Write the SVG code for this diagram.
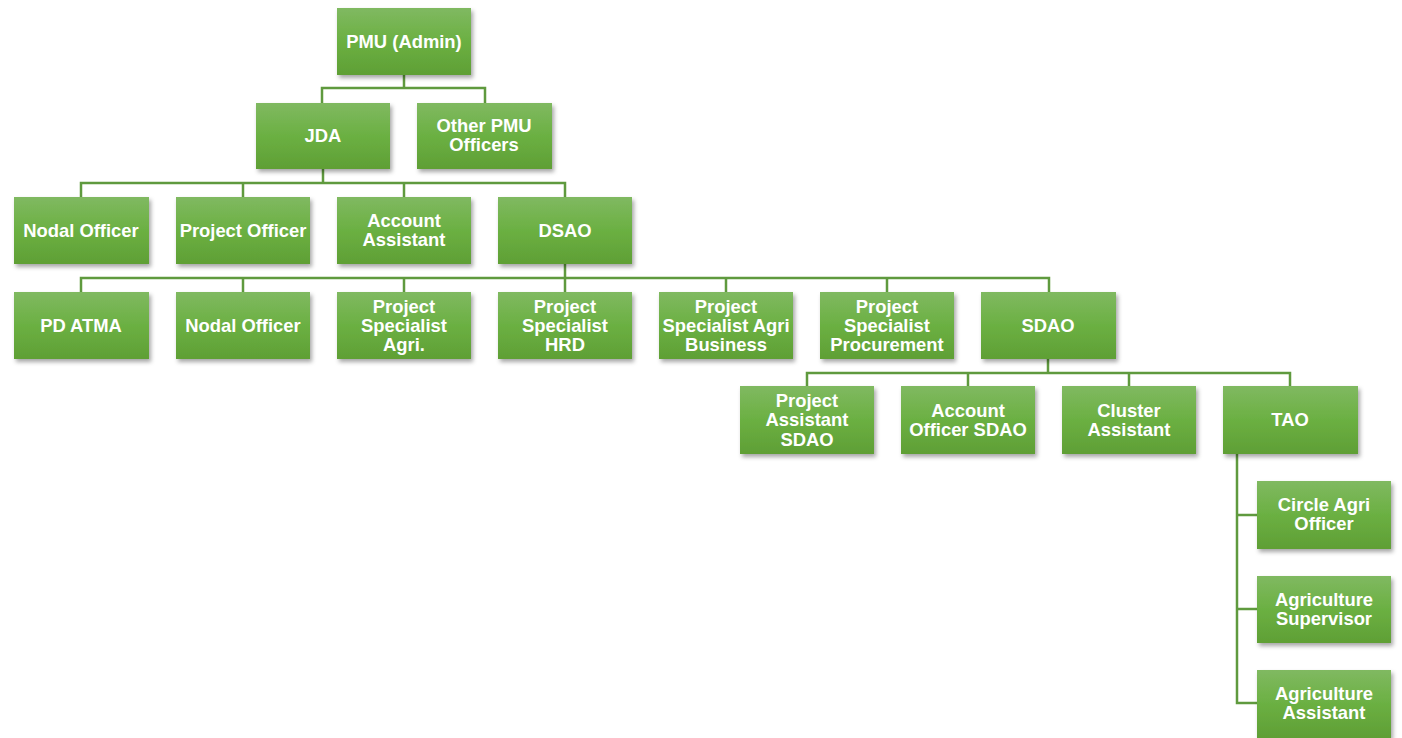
<svg xmlns="http://www.w3.org/2000/svg" width="1402" height="738" viewBox="0 0 1402 738">
<defs>
<linearGradient id="g" x1="0" y1="0" x2="0" y2="1">
<stop offset="0" stop-color="#80b961"/>
<stop offset="0.5" stop-color="#6bb042"/>
<stop offset="1" stop-color="#5f9f35"/>
</linearGradient>
<filter id="sh" x="-10%" y="-10%" width="125%" height="130%">
<feDropShadow dx="2" dy="3" stdDeviation="2" flood-color="#000" flood-opacity="0.35"/>
</filter>
</defs>
<style>
.b{fill:url(#g);filter:url(#sh)}
.t{font-family:"Liberation Sans",Arial,sans-serif;font-weight:bold;font-size:18.4px;fill:#fff;text-anchor:middle}
.c{fill:none;stroke:#5f9a3e;stroke-width:2.5}
</style>
<rect width="1402" height="738" fill="#fff"/>
<g id="connectors" class="c">
<path d="M404 75V88M322 103V88H485V103"/>
<path d="M323 169V183M81 197V183H565V197M243 183V197M404 183V197"/>
<path d="M565 264V278M81 292V278H1049V292M243 278V292M404 278V292M565 278V292M726 278V292M887 278V292"/>
<path d="M1048 359V373M807 386V373H1290V386M968 373V386M1129 373V386"/>
<path d="M1237 454V703H1257M1237 515H1257M1237 609H1257"/>
</g>
<g id="pmu"><rect class="b" x="337" y="8" width="134" height="67"/><text class="t" x="404" y="48">PMU (Admin)</text></g>
<g id="jda"><rect class="b" x="256" y="103" width="134" height="66"/><text class="t" x="323" y="142">JDA</text></g>
<g id="other-pmu"><rect class="b" x="417" y="103" width="135" height="66"/><text class="t" x="484" y="132">Other PMU</text><text class="t" x="484" y="151">Officers</text></g>
<g id="nodal1"><rect class="b" x="14" y="197" width="135" height="67"/><text class="t" x="81" y="237">Nodal Officer</text></g>
<g id="project-officer"><rect class="b" x="176" y="197" width="134" height="67"/><text class="t" x="243" y="237">Project Officer</text></g>
<g id="account-assistant"><rect class="b" x="337" y="197" width="134" height="67"/><text class="t" x="404" y="227">Account</text><text class="t" x="404" y="246">Assistant</text></g>
<g id="dsao"><rect class="b" x="498" y="197" width="134" height="67"/><text class="t" x="565" y="237">DSAO</text></g>
<g id="pd-atma"><rect class="b" x="14" y="292" width="135" height="67"/><text class="t" x="81" y="332">PD ATMA</text></g>
<g id="nodal2"><rect class="b" x="176" y="292" width="134" height="67"/><text class="t" x="243" y="332">Nodal Officer</text></g>
<g id="ps-agri"><rect class="b" x="337" y="292" width="134" height="67"/><text class="t" x="404" y="313">Project</text><text class="t" x="404" y="332">Specialist</text><text class="t" x="404" y="351">Agri.</text></g>
<g id="ps-hrd"><rect class="b" x="498" y="292" width="134" height="67"/><text class="t" x="565" y="313">Project</text><text class="t" x="565" y="332">Specialist</text><text class="t" x="565" y="351">HRD</text></g>
<g id="ps-agribiz"><rect class="b" x="659" y="292" width="134" height="67"/><text class="t" x="726" y="313">Project</text><text class="t" x="726" y="332">Specialist Agri</text><text class="t" x="726" y="351">Business</text></g>
<g id="ps-proc"><rect class="b" x="820" y="292" width="134" height="67"/><text class="t" x="887" y="313">Project</text><text class="t" x="887" y="332">Specialist</text><text class="t" x="887" y="351">Procurement</text></g>
<g id="sdao"><rect class="b" x="981" y="292" width="135" height="67"/><text class="t" x="1048" y="332">SDAO</text></g>
<g id="pa-sdao"><rect class="b" x="740" y="386" width="134" height="68"/><text class="t" x="807" y="407">Project</text><text class="t" x="807" y="426">Assistant</text><text class="t" x="807" y="446">SDAO</text></g>
<g id="ao-sdao"><rect class="b" x="901" y="386" width="134" height="68"/><text class="t" x="968" y="417">Account</text><text class="t" x="968" y="436">Officer SDAO</text></g>
<g id="cluster"><rect class="b" x="1062" y="386" width="134" height="68"/><text class="t" x="1129" y="417">Cluster</text><text class="t" x="1129" y="436">Assistant</text></g>
<g id="tao"><rect class="b" x="1223" y="386" width="135" height="68"/><text class="t" x="1290" y="426">TAO</text></g>
<g id="circle"><rect class="b" x="1257" y="481" width="134" height="68"/><text class="t" x="1324" y="511">Circle Agri</text><text class="t" x="1324" y="530">Officer</text></g>
<g id="supervisor"><rect class="b" x="1257" y="576" width="134" height="67"/><text class="t" x="1324" y="606">Agriculture</text><text class="t" x="1324" y="625">Supervisor</text></g>
<g id="assistant"><rect class="b" x="1257" y="670" width="134" height="68"/><text class="t" x="1324" y="700">Agriculture</text><text class="t" x="1324" y="719">Assistant</text></g>
</svg>
